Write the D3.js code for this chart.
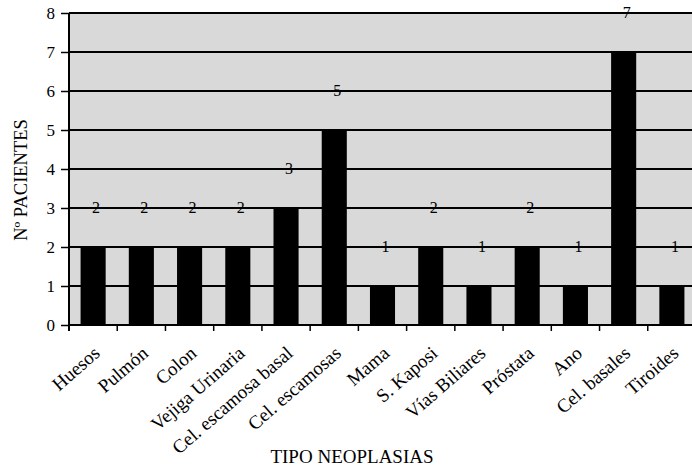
<!DOCTYPE html>
<html>
<head>
<meta charset="utf-8">
<script src="https://cdn.jsdelivr.net/npm/d3@7"></script>
<style>
  body { margin: 0; background: #fff; }
  svg text { font-family: "Liberation Serif", "Times New Roman", "DejaVu Serif", serif; fill: #000; }
</style>
</head>
<body>
<div id="chart"></div>
<script>
// tipos de neoplasia y nº de pacientes
const categories = ['Huesos', 'Pulmón', 'Colon', 'Vejiga Urinaria', 'Cel. escamosa basal',
  'Cel. escamosas', 'Mama', 'S. Kaposi', 'Vías Biliares', 'Próstata', 'Ano', 'Cel. basales', 'Tiroides']
const pacientes = [2, 2, 2, 2, 3, 5, 1, 2, 1, 2, 1, 7, 1]
const yTicks = [0, 1, 2, 3, 4, 5, 6, 7, 8]

const width = 692, height = 471
const margin = {top: 13, left: 69, bottom: 146}
const plotBottom = height - margin.bottom
const serif = '"Liberation Serif", "Times New Roman", serif'

const svg = d3.select('#chart').append('svg')
  .attr('width', width)
  .attr('height', height)

// band scale runs past the right edge (chart is cut off in the original)
const x = d3.scaleBand()
  .domain(categories)
  .range([margin.left, 696])
  .paddingInner(0.48)
  .paddingOuter(0.24)

const y = d3.scaleLinear()
  .domain([0, 8])
  .range([plotBottom, margin.top])

// stippled grey background
svg.append('rect')
  .attr('x', margin.left)
  .attr('y', margin.top)
  .attr('width', 696 - margin.left)
  .attr('height', plotBottom - margin.top)
  .attr('fill', '#d9d9d9')

// gridlines
svg.append('g')
  .selectAll('line')
  .data(yTicks.slice(1))
  .join('line')
  .attr('x1', margin.left)
  .attr('x2', width)
  .attr('y1', d => y(d))
  .attr('y2', d => y(d))
  .attr('stroke', '#000')
  .attr('stroke-width', 2)

// bars
svg.append('g')
  .selectAll('rect')
  .data(categories)
  .join('rect')
  .attr('x', d => x(d))
  .attr('width', x.bandwidth())
  .attr('y', (d, i) => y(pacientes[i]))
  .attr('height', (d, i) => y(0) - y(pacientes[i]))
  .attr('fill', '#000')

// value labels sit one unit above the bar, on the gridline
svg.append('g')
  .selectAll('text')
  .data(categories)
  .join('text')
  .attr('x', d => x(d) + x.bandwidth() / 2 + 3)
  .attr('y', (d, i) => y(pacientes[i] + 1) + 5)
  .attr('text-anchor', 'middle')
  .attr('font-family', serif)
  .attr('font-size', 16)
  .text((d, i) => pacientes[i])

// y axis
const yAxis = d3.axisLeft(y)
  .tickValues(yTicks)
  .tickSize(8)
  .tickPadding(6)
  .tickFormat(d3.format('d'))

svg.append('g')
  .attr('transform', 'translate(' + margin.left + ',0)')
  .call(yAxis)
  .attr('font-family', serif)
  .call(g => g.select('.domain').remove())
  .call(g => g.selectAll('line').attr('stroke-width', 1.5))
  .call(g => g.selectAll('text').attr('font-size', 17))

svg.append('line')
  .attr('x1', margin.left).attr('x2', margin.left)
  .attr('y1', margin.top).attr('y2', plotBottom + 6)
  .attr('stroke', '#000').attr('stroke-width', 2)

// x axis: ticks at band boundaries
const step = x.step()
const bounds = d3.range(categories.length + 1).map(i => margin.left + i * step)

svg.append('line')
  .attr('x1', margin.left).attr('x2', width)
  .attr('y1', plotBottom).attr('y2', plotBottom)
  .attr('stroke', '#000').attr('stroke-width', 2)

svg.append('g')
  .selectAll('line')
  .data(bounds.slice(1))
  .join('line')
  .attr('x1', d => d).attr('x2', d => d)
  .attr('y1', plotBottom).attr('y2', plotBottom + 6)
  .attr('stroke', '#000').attr('stroke-width', 1.5)

svg.append('g')
  .selectAll('text')
  .data(categories)
  .join('text')
  .attr('transform', d => 'translate(' + (x(d) + x.bandwidth() / 2 + 8) + ',' + (plotBottom + 30) + ') rotate(-41)')
  .attr('text-anchor', 'end')
  .attr('font-family', serif)
  .attr('font-size', 19)
  .text(d => d)

// axis titles
svg.append('text')
  .attr('transform', 'translate(27,180) rotate(-90)')
  .attr('text-anchor', 'middle')
  .attr('font-family', serif)
  .attr('font-size', 18.5)
  .text('Nº PACIENTES')

svg.append('text')
  .attr('x', 352)
  .attr('y', 463)
  .attr('text-anchor', 'middle')
  .attr('font-family', serif)
  .attr('font-size', 19)
  .text('TIPO NEOPLASIAS')
</script>
</body>
</html>
